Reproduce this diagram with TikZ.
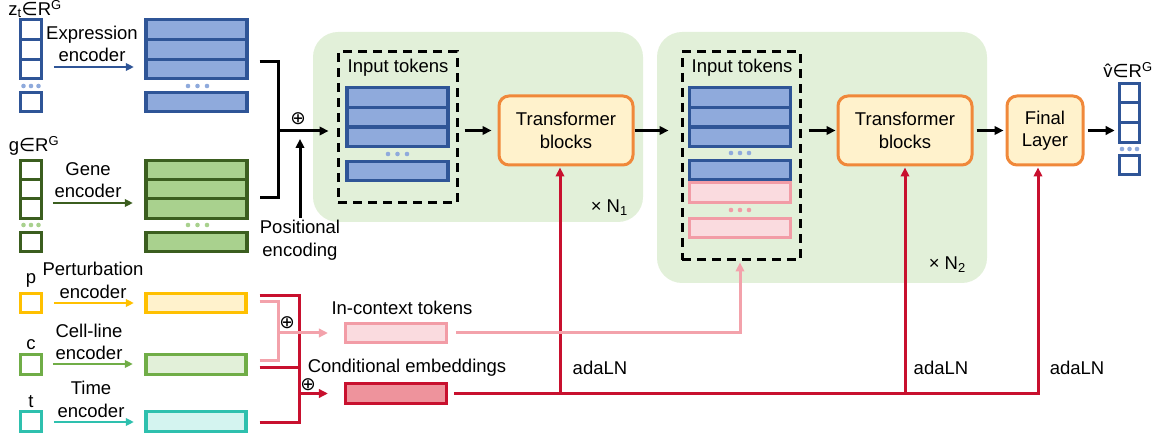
\documentclass[tikz,border=0pt]{standalone}
\usepackage{fontspec}
\setmainfont{Liberation Sans}
\newfontfamily\dv{DejaVu Sans}
\usetikzlibrary{arrows.meta,calc}
\definecolor{dblue}{HTML}{2F5597}
\definecolor{lblue}{HTML}{8FAADC}
\definecolor{dgreen}{HTML}{3B5E1F}
\definecolor{mgreen}{HTML}{A9D18E}
\definecolor{regiong}{HTML}{E2F0D9}
\definecolor{orng}{HTML}{F0883A}
\definecolor{lyel}{HTML}{FFF2CC}
\definecolor{yel}{HTML}{FFC000}
\definecolor{cgreen}{HTML}{70AD47}
\definecolor{teal}{HTML}{2EC0AE}
\definecolor{lteal}{HTML}{D4F4F0}
\definecolor{pinkb}{HTML}{F29CA6}
\definecolor{pinkf}{HTML}{FADBDF}
\definecolor{redc}{HTML}{C8102E}
\definecolor{condf}{HTML}{EE939C}
\definecolor{pinkl}{HTML}{F3A2AB}
\begin{document}
\begin{tikzpicture}[x=1pt,y=-1pt,
  font=\fontsize{18.5}{22.5}\selectfont,
  every node/.style={inner sep=0pt},
  bar/.style={draw, line width=3.2pt, minimum width=101pt, minimum height=19.7pt},
  sq/.style={draw=#1, fill=white, line width=3.2pt, minimum width=20.5pt, minimum height=19.7pt},
  region/.style={fill=regiong, rounded corners=25pt},
  dashbox/.style={draw, line width=3pt, dash pattern=on 9pt off 6pt},
  tfb/.style={draw=orng, fill=lyel, line width=3pt, rounded corners=10pt, align=center, minimum height=69pt},
  blk/.style={line width=3pt, -{Triangle[length=9pt,width=8.5pt]}},
  blkl/.style={line width=3pt},
  encarr/.style={line width=2.5pt, -{Triangle[length=8pt,width=7.5pt]}},
  redl/.style={line width=3pt, draw=redc},
  reda/.style={line width=3pt, draw=redc, -{Triangle[length=9pt,width=8.5pt]}},
  pinkln/.style={line width=3pt, draw=pinkl},
  pinka/.style={line width=3pt, draw=pinkl, -{Triangle[length=9pt,width=8.5pt]}},
  lbl/.style={align=center}
]
\useasboundingbox (0,0) rectangle (1163,438);

% ---------- green regions ----------
\node[region, minimum width=330pt, minimum height=190pt] (g1) at (478,127) {};
\node[region, minimum width=330pt, minimum height=251pt] (g2) at (822,157.5) {};

% ---------- expression input ----------
\node (zlab) at (35,9) {z\textsubscript{t}{\dv ∈}R\textsuperscript{G}};
\node[sq=dblue] (zsq1) at (31,29.7) {};
\node[sq=dblue] (zsq2) at (31,49.3) {};
\node[sq=dblue] (zsq3) at (31,69) {};
\node[sq=dblue] (zsq4) at (31,102) {};
\foreach \x in {23.5,31,38.5} \fill[lblue] (\x,86) circle (2.3pt);
\node[lbl] (exlab) at (92,44) {Expression\\encoder};
\draw[encarr, dblue] ($(zsq3.east)+(11,-2)$) -- ++(80,0);
\node[bar, draw=dblue, fill=lblue] (ex1) at (196.5,29.7) {};
\node[bar, draw=dblue, fill=lblue] (ex2) at (196.5,49.3) {};
\node[bar, draw=dblue, fill=lblue] (ex3) at (196.5,69) {};
\node[bar, draw=dblue, fill=lblue] (ex4) at (196.5,102) {};
\foreach \x in {188,197.5,207} \fill[lblue] (\x,86) circle (2.3pt);

% ---------- gene input ----------
\node (glab) at (34,146) {g{\dv ∈}R\textsuperscript{G}};
\node[sq=dgreen] (gsq1) at (31,170) {};
\node[sq=dgreen] (gsq2) at (31,189.5) {};
\node[sq=dgreen] (gsq3) at (31,208.5) {};
\node[sq=dgreen] (gsq4) at (31,242) {};
\foreach \x in {23.5,31,38.5} \fill[mgreen] (\x,225) circle (2.3pt);
\node[lbl] (gelab) at (88,180) {Gene\\encoder};
\draw[encarr, dgreen] ($(gsq3.east)+(10,-5.5)$) -- ++(80,0);
\node[bar, draw=dgreen, fill=mgreen] (ge1) at (196.5,170) {};
\node[bar, draw=dgreen, fill=mgreen] (ge2) at (196.5,189.5) {};
\node[bar, draw=dgreen, fill=mgreen] (ge3) at (196.5,208.5) {};
\node[bar, draw=dgreen, fill=mgreen] (ge4) at (196.5,242) {};
\foreach \x in {188,197.5,207} \fill[mgreen] (\x,225) circle (2.3pt);

% ---------- bracket and positional encoding ----------
\coordinate (bj) at (278,131);
\draw[blkl] ($(ex3.east)+(11,-7)$) -| (bj) |- ($(ge3.east)+(11,-10.5)$);
\node (pl1) at (298,119) {\dv ⊕};
\node[lbl] (pos) at (300,240) {Positional\\encoding};
\draw[blk, shorten <=2pt, shorten >=8pt] (pos.north) -- (pos.north |- bj);

% ---------- first block ----------
\node[dashbox, minimum width=119pt, minimum height=151pt] (d1) at (397.5,127.5) {};
\draw[blk, shorten >=8pt] (bj) -- (bj -| d1.west);
\node (it1) at (398,68) {Input tokens};
\node[bar, draw=dblue, fill=lblue] (in1a) at (397.5,97.5) {};
\node[bar, draw=dblue, fill=lblue] (in1b) at (397.5,117.2) {};
\node[bar, draw=dblue, fill=lblue] (in1c) at (397.5,136.9) {};
\node[bar, draw=dblue, fill=lblue] (in1d) at (397.5,171) {};
\foreach \x in {388,397.5,407} \fill[lblue] (\x,154) circle (2.3pt);
\node[tfb, minimum width=134pt] (tf1) at (566,130.5) {Transformer\\blocks};
\draw[blk, shorten <=6pt, shorten >=6pt] (tf1.west -| d1.east) -- (tf1.west);
\node[anchor=east] (n1) at (628,208) {× N\textsubscript{1}};

% ---------- second block ----------
\node[dashbox, minimum width=118pt, minimum height=208pt] (d2) at (741,156) {};
\draw[blk, shorten >=12pt] (tf1.east) -- (tf1.east -| d2.west);
\node (it2) at (742,68) {Input tokens};
\node[bar, draw=dblue, fill=lblue] (in2a) at (740,97.5) {};
\node[bar, draw=dblue, fill=lblue] (in2b) at (740,117.2) {};
\node[bar, draw=dblue, fill=lblue] (in2c) at (740,136.9) {};
\node[bar, draw=dblue, fill=lblue] (in2d) at (740,170) {};
\foreach \x in {731,740,749} \fill[lblue] (\x,153) circle (2.3pt);
\node[bar, draw=pinkb, fill=pinkf] (pk1) at (740,192.5) {};
\node[bar, draw=pinkb, fill=pinkf] (pk2) at (740,228) {};
\foreach \x in {731,740,749} \fill[pinkb] (\x,210) circle (2.3pt);
\node[tfb, minimum width=134pt] (tf2) at (905,130.5) {Transformer\\blocks};
\draw[blk, shorten <=7pt, shorten >=1pt] (tf2.west -| d2.east) -- (tf2.west);
\node[anchor=east] (n2) at (966,265) {× N\textsubscript{2}};

% ---------- final layer and output ----------
\node[tfb, minimum width=76pt] (fin) at (1045,130.5) {Final\\Layer};
\draw[blk, shorten <=3pt, shorten >=2pt] (tf2.east) -- (fin.west);
\node (vlab) at (1128,70) {\^{v}{\dv ∈}R\textsuperscript{G}};
\node[sq=dblue] (out1) at (1129.5,93) {};
\node[sq=dblue] (out2) at (1129.5,112.7) {};
\node[sq=dblue] (out3) at (1129.5,132.4) {};
\node[sq=dblue] (out4) at (1129.5,165) {};
\foreach \x in {1122,1129.5,1137} \fill[lblue] (\x,149) circle (2.3pt);
\draw[blk, shorten <=3pt, shorten >=3pt] (fin.east) -- (fin.east -| out3.west);

% ---------- condition inputs ----------
\node (plab) at (31,280) {p};
\node[sq=yel] (psq) at (31,303) {};
\node[lbl] (pelab) at (93,280.5) {Perturbation\\encoder};
\draw[encarr, yel] ($(psq.east)+(11,0)$) -- ++(80,0);
\node[bar, draw=yel, fill=lyel, minimum width=100pt] (pbox) at (196,303) {};

\node (clab) at (31,345) {c};
\node[sq=cgreen] (csq) at (31,364.5) {};
\node[lbl] (celab) at (89,342) {Cell-line\\encoder};
\draw[encarr, cgreen] ($(csq.east)+(10,-0.5)$) -- ++(80,0);
\node[bar, draw=cgreen, fill=regiong, minimum width=100pt] (cbox) at (196,364.5) {};

\node (tlab) at (31,402) {t};
\node[sq=teal] (tsq) at (31,421.5) {};
\node[lbl] (telab) at (91,399.5) {Time\\encoder};
\draw[encarr, teal] ($(tsq.east)+(11,0.5)$) -- ++(80,0);
\node[bar, draw=teal, fill=lteal, minimum width=100pt] (tbox) at (196,421.5) {};

% ---------- embeddings ----------
\node[bar, draw=pinkb, fill=pinkf] (ctx) at (396,333) {};
\node (ctxlab) at (402,308) {In-context tokens};
\node[bar, draw=redc, fill=condf] (cond) at (396,393.5) {};
\node (condlab) at (407,368) {Conditional embeddings};

% red connectors
\coordinate (rj) at (299,393.5);
\draw[redl] ($(pbox.east)+(12,-7)$) -| (rj);
\draw[redl] ($(tbox.east)+(12,1.5)$) -| (rj);
\draw[redl] ($(cbox.east)+(12,3.5)$) -| (rj);
\draw[reda, shorten >=16pt] (rj) -- (cond.west);
\node (pl3) at (308,385) {\dv ⊕};
\draw[reda, shorten >=1pt] ($(cond.east)+(6,0)$) -| ([xshift=-7pt]fin.south);
\draw[reda, shorten >=1pt] ([xshift=-6pt]tf1.south |- cond.east) -- ([xshift=-6pt]tf1.south);
\draw[reda, shorten >=1pt] (tf2.south |- cond.east) -- (tf2.south);
\node (ada1) at (600,368) {adaLN};
\node (ada2) at (941,368) {adaLN};
\node (ada3) at (1077,368) {adaLN};

% pink connectors
\coordinate (pj) at (278,333);
\draw[pinkln] ($(pbox.east)+(12,-1)$) -| (pj);
\draw[pinkln] ($(cbox.east)+(12,-3.5)$) -| (pj);
\draw[pinka, shorten >=16pt] (pj) -- (ctx.west);
\node (pl2) at (287,323) {\dv ⊕};
\draw[pinka, shorten >=1pt] ($(ctx.east)+(8,0)$) -| ([xshift=-1pt]d2.south);
\end{tikzpicture}
\end{document}
